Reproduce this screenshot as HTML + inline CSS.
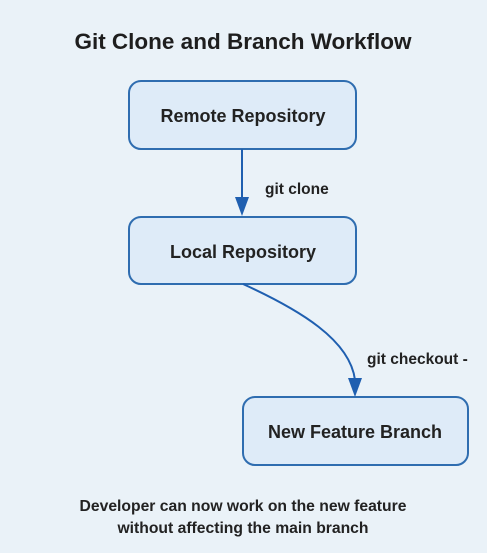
<!DOCTYPE html>
<html><head><style>
body{margin:0;width:487px;height:553px;background:#eaf2f8;overflow:hidden;font-family:"Liberation Sans",sans-serif}
</style></head><body>
<svg width="487" height="553" xmlns="http://www.w3.org/2000/svg" style="position:absolute;left:0;top:0">
<rect width="487" height="553" fill="#eaf2f8"/>
<text x="243" y="49" text-anchor="middle" font-size="22.5" font-weight="bold" fill="#1e1e1e" font-family="Liberation Sans, sans-serif">Git Clone and Branch Workflow</text>
<g fill="#deebf8" stroke="#2f6db0" stroke-width="2">
<rect x="129" y="81" width="227" height="68" rx="12"/>
<rect x="129" y="217" width="227" height="67" rx="12"/>
<rect x="243" y="397" width="225" height="68" rx="12"/>
</g>
<g font-family="Liberation Sans, sans-serif" font-weight="bold" fill="#222" text-anchor="middle">
<text x="243" y="122" font-size="18">Remote Repository</text>
<text x="243" y="258" font-size="18">Local Repository</text>
<text x="355" y="438" font-size="18">New Feature Branch</text>
</g>
<line x1="242" y1="149" x2="242" y2="198" stroke="#1f5fb0" stroke-width="2"/>
<polygon points="235,197 249,197 242,216" fill="#1f5fb0"/>
<path d="M243,284 C300,310 350,340 355,380" fill="none" stroke="#1f5fb0" stroke-width="2"/>
<polygon points="348,378 362,378 355,397" fill="#1f5fb0"/>
<g font-family="Liberation Sans, sans-serif" font-weight="bold" fill="#222" font-size="15.5">
<text x="265" y="194">git clone</text>
<text x="367" y="364">git checkout -</text>
</g>
<g font-family="Liberation Sans, sans-serif" font-weight="bold" fill="#222" font-size="15.7" text-anchor="middle">
<text x="243" y="511">Developer can now work on the new feature</text>
<text x="243" y="533">without affecting the main branch</text>
</g>
</svg>
</body></html>
